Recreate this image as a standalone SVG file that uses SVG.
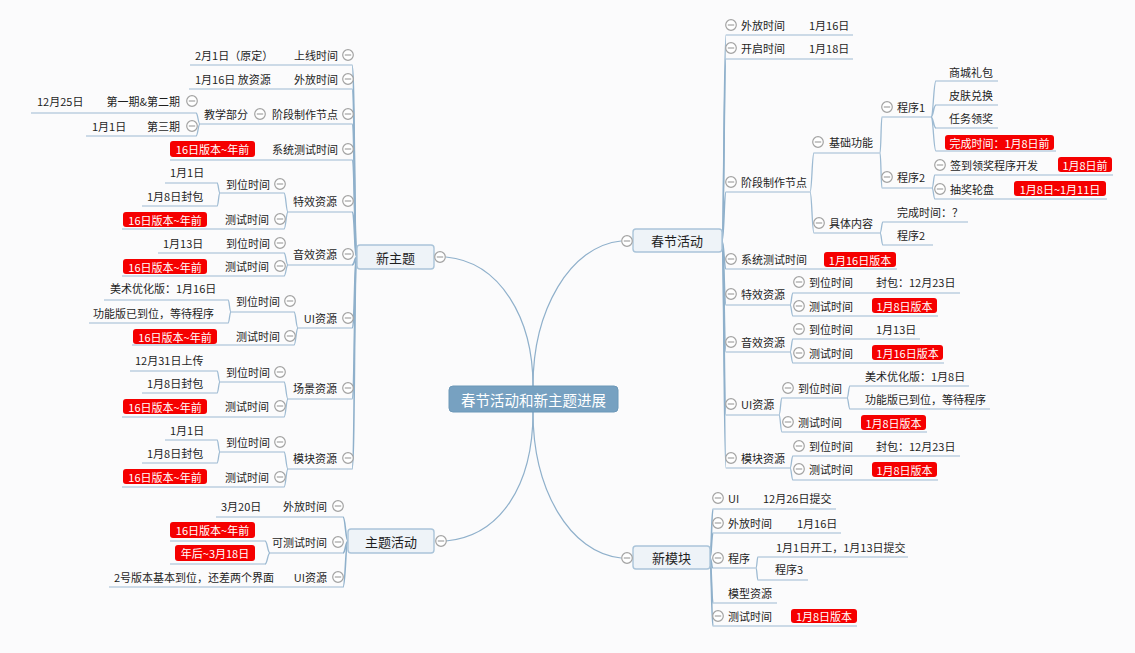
<svg xmlns="http://www.w3.org/2000/svg" xmlns:xlink="http://www.w3.org/1999/xlink" width="1135" height="653" viewBox="0 0 1135 653">
<style>
.t{font-family:"Noto Sans CJK SC","Liberation Sans",sans-serif;font-size:11px;fill:#1e1e1e;dominant-baseline:central}
.e{text-anchor:end}
.m{text-anchor:middle}
.rt{font-family:"Noto Sans CJK SC","Liberation Sans",sans-serif;font-size:11px;fill:#fff;dominant-baseline:central;text-anchor:middle}
.ul{stroke:#9dbad2;stroke-width:1.2;fill:none}
.cn{stroke:#9dbad2;stroke-width:1.3;fill:none}
.sp{stroke:#8fb0cb;stroke-width:1.6;fill:none}
.rc{stroke:#8fb0cb;stroke-width:1.2;fill:none}
.red{fill:#f50000}
.box{fill:#eef3f8;stroke:#aac4d9;stroke-width:1.4}
.mt{font-family:"Noto Sans CJK SC","Liberation Sans",sans-serif;font-size:13px;fill:#1e1e1e;dominant-baseline:central;text-anchor:middle}
</style>
<defs>
<g id="col"><circle r="5.3" fill="#fff" stroke="#a3a3a3" stroke-width="1.2"/><line x1="-3.2" x2="3.2" y1="0" y2="0" stroke="#a3a3a3" stroke-width="1.2"/></g>
</defs>
<rect width="1135" height="653" fill="#fbfbfc"/>

<g id="connectors">
<!-- root curves -->
<path class="rc" d="M533,386 C533,318 500,262 446,257"/>
<path class="rc" d="M533,386 C533,310 570,246 621,241"/>
<path class="rc" d="M533,412 C533,486 500,536 446,541"/>
<path class="rc" d="M533,412 C533,490 570,553 621,558"/>
<!-- 新主题 spine -->
<path class="sp" d="M357,257 C354,257 355,65 352,65"/>
<path class="sp" d="M357,257 C354,257 355,89 352,89"/>
<path class="sp" d="M357,257 C354,257 355,124 352,124"/>
<path class="sp" d="M357,257 C354,257 355,160 352,160"/>
<path class="sp" d="M357,257 C354,257 355,212 352,212"/>
<path class="sp" d="M357,257 C354,257 355,265 352,265"/>
<path class="sp" d="M357,257 C354,257 355,328 352,328"/>
<path class="sp" d="M357,257 C354,257 355,399 352,399"/>
<path class="sp" d="M357,257 C354,257 355,469 352,469"/>
<!-- 新主题 brackets -->
<path class="cn" d="M200,124 C198,124 198,113 196,113 M200,124 C198,124 198,136 196,136"/>
<path class="cn" d="M288,212 C286,212 286,193 284,193 M288,212 C286,212 286,229 284,229"/>
<path class="cn" d="M220,193 C218.5,193 218.5,183 217,183 M220,193 C218.5,193 218.5,206 217,206"/>
<path class="cn" d="M288,265 C286,265 286,253 284,253 M288,265 C286,265 286,276 284,276"/>
<path class="cn" d="M298,328 C296,328 296,312 294,312 M298,328 C296,328 296,345 294,345"/>
<path class="cn" d="M231,312 C229.5,312 229.5,300 228,300 M231,312 C229.5,312 229.5,323 228,323"/>
<path class="cn" d="M288,399 C286,399 286,382 284,382 M288,399 C286,399 286,417 284,417"/>
<path class="cn" d="M220,382 C218.5,382 218.5,371 217,371 M220,382 C218.5,382 218.5,393 217,393"/>
<path class="cn" d="M288,469 C286,469 286,452 284,452 M288,469 C286,469 286,487 284,487"/>
<path class="cn" d="M220,452 C218.5,452 218.5,440 217,440 M220,452 C218.5,452 218.5,463 217,463"/>
<!-- 主题活动 -->
<path class="sp" d="M348,541 C345.5,541 345.5,517 343,517"/>
<path class="sp" d="M348,541 C345.5,541 345.5,553 343,553"/>
<path class="sp" d="M348,541 C345.5,541 345.5,587 343,587"/>
<path class="cn" d="M270,553 C267.5,553 267.5,541 265,541 M270,553 C267.5,553 267.5,564 265,564"/>
<!-- 春节活动 spine -->
<path class="sp" d="M722,241 C724,241 724,35 726,35"/>
<path class="sp" d="M722,241 C724,241 724,59 726,59"/>
<path class="sp" d="M722,241 C724,241 724,192 726,192"/>
<path class="sp" d="M722,241 C724,241 724,269 726,269"/>
<path class="sp" d="M722,241 C724,241 724,305 726,305"/>
<path class="sp" d="M722,241 C724,241 724,352 726,352"/>
<path class="sp" d="M722,241 C724,241 724,415 726,415"/>
<path class="sp" d="M722,241 C724,241 724,468 726,468"/>
<!-- 春节活动 brackets -->
<path class="cn" d="M810,192 C812,192 812,153 814,153 M810,192 C812,192 812,233 814,233"/>
<path class="cn" d="M880,153 C881,153 881,117 882,117 M880,153 C881,153 881,188 882,188"/>
<path class="cn" d="M931,117 C933.5,117 933.5,81 936,81 M931,117 C933.5,117 933.5,105 936,105 M931,117 C933.5,117 933.5,128 936,128 M931,117 C933.5,117 933.5,151 936,151"/>
<path class="cn" d="M932,188 C933.5,188 933.5,175 935,175 M932,188 C933.5,188 933.5,199 935,199"/>
<path class="cn" d="M880,233 C881.5,233 881.5,222 883,222 M880,233 C881.5,233 881.5,245 883,245"/>
<path class="cn" d="M790,305 C791.5,305 791.5,293 793,293 M790,305 C791.5,305 791.5,316 793,316"/>
<path class="cn" d="M790,352 C791.5,352 791.5,339 793,339 M790,352 C791.5,352 791.5,363 793,363"/>
<path class="cn" d="M779,415 C780.5,415 780.5,398 782,398 M779,415 C780.5,415 780.5,432 782,432"/>
<path class="cn" d="M847,398 C848.5,398 848.5,386 850,386 M847,398 C848.5,398 848.5,409 850,409"/>
<path class="cn" d="M790,468 C791.5,468 791.5,456 793,456 M790,468 C791.5,468 791.5,480 793,480"/>
<!-- 新模块 -->
<path class="sp" d="M710,558 C711.5,558 711.5,509 713,509"/>
<path class="sp" d="M710,558 C711.5,558 711.5,533 713,533"/>
<path class="sp" d="M710,558 C711.5,558 711.5,568 713,568"/>
<path class="sp" d="M710,558 C711.5,558 711.5,603 713,603"/>
<path class="sp" d="M710,558 C711.5,558 711.5,626 713,626"/>
<path class="cn" d="M756,568 C757,568 757,557 758,557 M756,568 C757,568 757,580 758,580"/>
</g>

<g id="root">
<rect x="449" y="386" width="169" height="26" rx="4" fill="#77a1c1" stroke="#6d98b8"/>
<text x="533.5" y="399" class="mt" style="font-size:14.5px;fill:#fff">春节活动和新主题进展</text>
</g>

<!-- ===== 新主题 ===== -->
<g id="n-xinzhuti">
<rect class="box" x="357" y="245" width="77" height="24" rx="3"/>
<text class="mt" x="395.5" y="257">新主题</text>
<use xlink:href="#col" x="440" y="257"/>
</g>
<g id="n-shangxian">
<line class="ul" x1="190" y1="65" x2="352" y2="65"/>
<text class="t e" x="338" y="55">上线时间</text><use xlink:href="#col" x="348" y="55"/>
<text class="t" x="195" y="55">2月1日（原定）</text>
</g>
<g id="n-waifang-l">
<line class="ul" x1="189" y1="89" x2="352" y2="89"/>
<text class="t e" x="338" y="79">外放时间</text><use xlink:href="#col" x="348" y="79"/>
<text class="t" x="195" y="79">1月16日 放资源</text>
</g>
<g id="n-jieduan-l">
<line class="ul" x1="200" y1="124" x2="352" y2="124"/>
<text class="t e" x="338" y="114">阶段制作节点</text><use xlink:href="#col" x="348" y="114"/>
</g>
<g id="n-jiaoxue">
<text class="t e" x="248" y="114">教学部分</text><use xlink:href="#col" x="260" y="114"/>
</g>
<g id="n-qi12">
<line class="ul" x1="31" y1="113" x2="196" y2="113"/>
<text class="t e" x="180" y="101">第一期&amp;第二期</text><use xlink:href="#col" x="192" y="101"/>
<text class="t" x="37" y="101">12月25日</text>
</g>
<g id="n-qi3">
<line class="ul" x1="86" y1="136" x2="196" y2="136"/>
<text class="t e" x="180" y="126">第三期</text><use xlink:href="#col" x="192" y="126"/>
<text class="t" x="92" y="126">1月1日</text>
</g>
<g id="n-xitong-l">
<line class="ul" x1="170" y1="160" x2="352" y2="160"/>
<text class="t e" x="338" y="149">系统测试时间</text><use xlink:href="#col" x="348" y="149"/>
<rect class="red" x="170" y="141" width="85" height="16" rx="3"/><text class="rt" x="212.5" y="149">16日版本~年前</text>
</g>
<g id="n-texiao-l">
<line class="ul" x1="288" y1="212" x2="352" y2="212"/>
<text class="t e" x="337" y="201">特效资源</text><use xlink:href="#col" x="348" y="201"/>
<line class="ul" x1="220" y1="193" x2="284" y2="193"/>
<text class="t e" x="270" y="184">到位时间</text><use xlink:href="#col" x="280" y="184"/>
<line class="ul" x1="165" y1="183" x2="217" y2="183"/>
<text class="t" x="170" y="172">1月1日</text>
<line class="ul" x1="142" y1="206" x2="217" y2="206"/>
<text class="t" x="147" y="196">1月8日封包</text>
<line class="ul" x1="122" y1="229" x2="284" y2="229"/>
<text class="t e" x="269" y="219">测试时间</text><use xlink:href="#col" x="280" y="219"/>
<rect class="red" x="123" y="212" width="84" height="15" rx="3"/><text class="rt" x="165" y="219.5">16日版本~年前</text>
</g>
<g id="n-yinxiao-l">
<line class="ul" x1="288" y1="265" x2="352" y2="265"/>
<text class="t e" x="337" y="254">音效资源</text><use xlink:href="#col" x="348" y="254"/>
<line class="ul" x1="158" y1="253" x2="284" y2="253"/>
<text class="t e" x="270" y="243">到位时间</text><use xlink:href="#col" x="280" y="243"/>
<text class="t" x="163" y="243">1月13日</text>
<line class="ul" x1="122" y1="276" x2="284" y2="276"/>
<text class="t e" x="269" y="266">测试时间</text><use xlink:href="#col" x="280" y="266"/>
<rect class="red" x="123" y="259" width="84" height="15" rx="3"/><text class="rt" x="165" y="266.5">16日版本~年前</text>
</g>
<g id="n-ui-l">
<line class="ul" x1="298" y1="328" x2="352" y2="328"/>
<text class="t e" x="337" y="318">UI资源</text><use xlink:href="#col" x="348" y="318"/>
<line class="ul" x1="231" y1="312" x2="294" y2="312"/>
<text class="t e" x="280" y="301">到位时间</text><use xlink:href="#col" x="290" y="301"/>
<line class="ul" x1="104" y1="300" x2="228" y2="300"/>
<text class="t" x="110" y="288">美术优化版：1月16日</text>
<line class="ul" x1="89" y1="323" x2="228" y2="323"/>
<text class="t" x="93" y="313">功能版已到位，等待程序</text>
<line class="ul" x1="132" y1="345" x2="294" y2="345"/>
<text class="t e" x="280" y="336">测试时间</text><use xlink:href="#col" x="290" y="336"/>
<rect class="red" x="133" y="329" width="84" height="15" rx="3"/><text class="rt" x="175" y="336.5">16日版本~年前</text>
</g>
<g id="n-changjing">
<line class="ul" x1="288" y1="399" x2="352" y2="399"/>
<text class="t e" x="337" y="388">场景资源</text><use xlink:href="#col" x="348" y="388"/>
<line class="ul" x1="220" y1="382" x2="284" y2="382"/>
<text class="t e" x="270" y="372">到位时间</text><use xlink:href="#col" x="280" y="372"/>
<line class="ul" x1="130" y1="371" x2="217" y2="371"/>
<text class="t" x="135" y="360">12月31日上传</text>
<line class="ul" x1="142" y1="393" x2="217" y2="393"/>
<text class="t" x="147" y="383">1月8日封包</text>
<line class="ul" x1="122" y1="417" x2="284" y2="417"/>
<text class="t e" x="269" y="406">测试时间</text><use xlink:href="#col" x="280" y="406"/>
<rect class="red" x="123" y="399" width="84" height="15" rx="3"/><text class="rt" x="165" y="406.5">16日版本~年前</text>
</g>
<g id="n-mokuai-l">
<line class="ul" x1="288" y1="469" x2="352" y2="469"/>
<text class="t e" x="337" y="458">模块资源</text><use xlink:href="#col" x="348" y="458"/>
<line class="ul" x1="220" y1="452" x2="284" y2="452"/>
<text class="t e" x="270" y="442">到位时间</text><use xlink:href="#col" x="280" y="442"/>
<line class="ul" x1="165" y1="440" x2="217" y2="440"/>
<text class="t" x="170" y="430">1月1日</text>
<line class="ul" x1="142" y1="463" x2="217" y2="463"/>
<text class="t" x="147" y="453">1月8日封包</text>
<line class="ul" x1="122" y1="487" x2="284" y2="487"/>
<text class="t e" x="269" y="477">测试时间</text><use xlink:href="#col" x="280" y="477"/>
<rect class="red" x="123" y="469" width="84" height="15" rx="3"/><text class="rt" x="165" y="476.5">16日版本~年前</text>
</g>

<!-- ===== 主题活动 ===== -->
<g id="n-zhutihuodong">
<rect class="box" x="348" y="529" width="86" height="24" rx="3"/>
<text class="mt" x="391" y="541">主题活动</text>
<use xlink:href="#col" x="441" y="541"/>
</g>
<g id="n-zt-waifang">
<line class="ul" x1="216" y1="517" x2="343" y2="517"/>
<text class="t e" x="327" y="506">外放时间</text><use xlink:href="#col" x="338" y="506"/>
<text class="t" x="221" y="506">3月20日</text>
</g>
<g id="n-zt-kece">
<line class="ul" x1="270" y1="553" x2="343" y2="553"/>
<text class="t e" x="327" y="542">可测试时间</text><use xlink:href="#col" x="338" y="542"/>
<line class="ul" x1="170" y1="541" x2="265" y2="541"/>
<rect class="red" x="170" y="522" width="85" height="16" rx="3"/><text class="rt" x="212.5" y="530">16日版本~年前</text>
<line class="ul" x1="170" y1="564" x2="265" y2="564"/>
<rect class="red" x="175" y="545" width="80" height="16" rx="3"/><text class="rt" x="215" y="553">年后~3月18日</text>
</g>
<g id="n-zt-ui">
<line class="ul" x1="109" y1="587" x2="343" y2="587"/>
<text class="t e" x="327" y="577">UI资源</text><use xlink:href="#col" x="338" y="577"/>
<text class="t" x="114" y="577">2号版本基本到位，还差两个界面</text>
</g>

<!-- ===== 春节活动 ===== -->
<g id="n-chunjie">
<rect class="box" x="633" y="229" width="89" height="23" rx="3"/>
<text class="mt" x="677" y="240.5">春节活动</text>
<use xlink:href="#col" x="627" y="241"/>
</g>
<g id="n-cj-waifang">
<line class="ul" x1="726" y1="35" x2="853" y2="35"/>
<use xlink:href="#col" x="731" y="25"/><text class="t" x="741" y="25">外放时间</text>
<text class="t" x="809" y="25">1月16日</text>
</g>
<g id="n-cj-kaiqi">
<line class="ul" x1="726" y1="59" x2="853" y2="59"/>
<use xlink:href="#col" x="731" y="48"/><text class="t" x="741" y="48">开启时间</text>
<text class="t" x="809" y="48">1月18日</text>
</g>
<g id="n-cj-jieduan">
<line class="ul" x1="726" y1="192" x2="810" y2="192"/>
<use xlink:href="#col" x="731" y="182"/><text class="t" x="741" y="182">阶段制作节点</text>
</g>
<g id="n-cj-jichu">
<line class="ul" x1="814" y1="153" x2="880" y2="153"/>
<use xlink:href="#col" x="818" y="142"/><text class="t" x="829" y="142">基础功能</text>
</g>
<g id="n-cj-chengxu1">
<line class="ul" x1="882" y1="117" x2="931" y2="117"/>
<use xlink:href="#col" x="887" y="107"/><text class="t" x="897" y="107">程序1</text>
<line class="ul" x1="936" y1="81" x2="998" y2="81"/><text class="t" x="949" y="72">商城礼包</text>
<line class="ul" x1="936" y1="105" x2="998" y2="105"/><text class="t" x="949" y="95">皮肤兑换</text>
<line class="ul" x1="936" y1="128" x2="998" y2="128"/><text class="t" x="949" y="118">任务领奖</text>
<line class="ul" x1="936" y1="151" x2="1056" y2="151"/>
<rect class="red" x="945" y="135" width="109" height="15" rx="3"/><text class="rt" x="999.5" y="142.5">完成时间：1月8日前</text>
</g>
<g id="n-cj-chengxu2">
<line class="ul" x1="882" y1="188" x2="932" y2="188"/>
<use xlink:href="#col" x="887" y="177"/><text class="t" x="897" y="177">程序2</text>
<line class="ul" x1="935" y1="175" x2="1113" y2="175"/>
<use xlink:href="#col" x="940" y="165"/><text class="t" x="950" y="165">签到领奖程序开发</text>
<rect class="red" x="1058" y="157" width="54" height="15" rx="3"/><text class="rt" x="1085" y="164.5">1月8日前</text>
<line class="ul" x1="935" y1="199" x2="1107" y2="199"/>
<use xlink:href="#col" x="940" y="189"/><text class="t" x="950" y="189">抽奖轮盘</text>
<rect class="red" x="1014" y="181" width="92" height="15" rx="3"/><text class="rt" x="1060" y="188.5">1月8日~1月11日</text>
</g>
<g id="n-cj-juti">
<line class="ul" x1="814" y1="233" x2="880" y2="233"/>
<use xlink:href="#col" x="819" y="223"/><text class="t" x="829" y="223">具体内容</text>
<line class="ul" x1="883" y1="222" x2="968" y2="222"/><text class="t" x="897" y="212">完成时间：？</text>
<line class="ul" x1="883" y1="245" x2="933" y2="245"/><text class="t" x="897" y="235">程序2</text>
</g>
<g id="n-cj-xitong">
<line class="ul" x1="726" y1="269" x2="897" y2="269"/>
<use xlink:href="#col" x="731" y="259"/><text class="t" x="741" y="259">系统测试时间</text>
<rect class="red" x="824" y="252" width="72" height="15" rx="3"/><text class="rt" x="860" y="259.5">1月16日版本</text>
</g>
<g id="n-cj-texiao">
<line class="ul" x1="726" y1="305" x2="790" y2="305"/>
<use xlink:href="#col" x="731" y="294"/><text class="t" x="741" y="294">特效资源</text>
<line class="ul" x1="793" y1="293" x2="960" y2="293"/>
<use xlink:href="#col" x="799" y="282"/><text class="t" x="809" y="282">到位时间</text>
<text class="t" x="876" y="282">封包：12月23日</text>
<line class="ul" x1="793" y1="316" x2="938" y2="316"/>
<use xlink:href="#col" x="799" y="306"/><text class="t" x="809" y="306">测试时间</text>
<rect class="red" x="872" y="298" width="65" height="15" rx="3"/><text class="rt" x="904.5" y="305.5">1月8日版本</text>
</g>
<g id="n-cj-yinxiao">
<line class="ul" x1="726" y1="352" x2="790" y2="352"/>
<use xlink:href="#col" x="731" y="342"/><text class="t" x="741" y="342">音效资源</text>
<line class="ul" x1="793" y1="339" x2="920" y2="339"/>
<use xlink:href="#col" x="799" y="329"/><text class="t" x="809" y="329">到位时间</text>
<text class="t" x="876" y="329">1月13日</text>
<line class="ul" x1="793" y1="363" x2="944" y2="363"/>
<use xlink:href="#col" x="799" y="353"/><text class="t" x="809" y="353">测试时间</text>
<rect class="red" x="872" y="345" width="71" height="15" rx="3"/><text class="rt" x="907.5" y="352.5">1月16日版本</text>
</g>
<g id="n-cj-ui">
<line class="ul" x1="726" y1="415" x2="779" y2="415"/>
<use xlink:href="#col" x="731" y="404"/><text class="t" x="741" y="404">UI资源</text>
<line class="ul" x1="782" y1="398" x2="847" y2="398"/>
<use xlink:href="#col" x="788" y="388"/><text class="t" x="798" y="388">到位时间</text>
<line class="ul" x1="850" y1="386" x2="969" y2="386"/><text class="t" x="865" y="376">美术优化版：1月8日</text>
<line class="ul" x1="850" y1="409" x2="990" y2="409"/><text class="t" x="865" y="399">功能版已到位，等待程序</text>
<line class="ul" x1="782" y1="432" x2="927" y2="432"/>
<use xlink:href="#col" x="788" y="422"/><text class="t" x="798" y="422">测试时间</text>
<rect class="red" x="861" y="415" width="65" height="15" rx="3"/><text class="rt" x="893.5" y="422.5">1月8日版本</text>
</g>
<g id="n-cj-mokuai">
<line class="ul" x1="726" y1="468" x2="790" y2="468"/>
<use xlink:href="#col" x="731" y="458"/><text class="t" x="741" y="458">模块资源</text>
<line class="ul" x1="793" y1="456" x2="960" y2="456"/>
<use xlink:href="#col" x="799" y="446"/><text class="t" x="809" y="446">到位时间</text>
<text class="t" x="876" y="446">封包：12月23日</text>
<line class="ul" x1="793" y1="480" x2="938" y2="480"/>
<use xlink:href="#col" x="799" y="469"/><text class="t" x="809" y="469">测试时间</text>
<rect class="red" x="872" y="462" width="65" height="15" rx="3"/><text class="rt" x="904.5" y="469.5">1月8日版本</text>
</g>

<!-- ===== 新模块 ===== -->
<g id="n-xinmokuai">
<rect class="box" x="633" y="546" width="77" height="23" rx="3"/>
<text class="mt" x="671.5" y="557.5">新模块</text>
<use xlink:href="#col" x="627" y="558"/>
</g>
<g id="n-xm-ui">
<line class="ul" x1="713" y1="509" x2="836" y2="509"/>
<use xlink:href="#col" x="718" y="498"/><text class="t" x="728" y="498">UI</text>
<text class="t" x="763" y="498">12月26日提交</text>
</g>
<g id="n-xm-waifang">
<line class="ul" x1="713" y1="533" x2="841" y2="533"/>
<use xlink:href="#col" x="718" y="523"/><text class="t" x="728" y="523">外放时间</text>
<text class="t" x="797" y="523">1月16日</text>
</g>
<g id="n-xm-chengxu">
<line class="ul" x1="713" y1="568" x2="756" y2="568"/>
<use xlink:href="#col" x="718" y="558"/><text class="t" x="728" y="558">程序</text>
<line class="ul" x1="758" y1="557" x2="908" y2="557"/><text class="t" x="776" y="547">1月1日开工，1月13日提交</text>
<line class="ul" x1="758" y1="580" x2="808" y2="580"/><text class="t" x="775" y="569">程序3</text>
</g>
<g id="n-xm-moxing">
<line class="ul" x1="713" y1="603" x2="777" y2="603"/>
<text class="t" x="728" y="593">模型资源</text>
</g>
<g id="n-xm-ceshi">
<line class="ul" x1="713" y1="626" x2="857" y2="626"/>
<use xlink:href="#col" x="718" y="616"/><text class="t" x="728" y="616">测试时间</text>
<rect class="red" x="791" y="609" width="66" height="14" rx="3"/><text class="rt" x="824" y="616">1月8日版本</text>
</g>
</svg>
